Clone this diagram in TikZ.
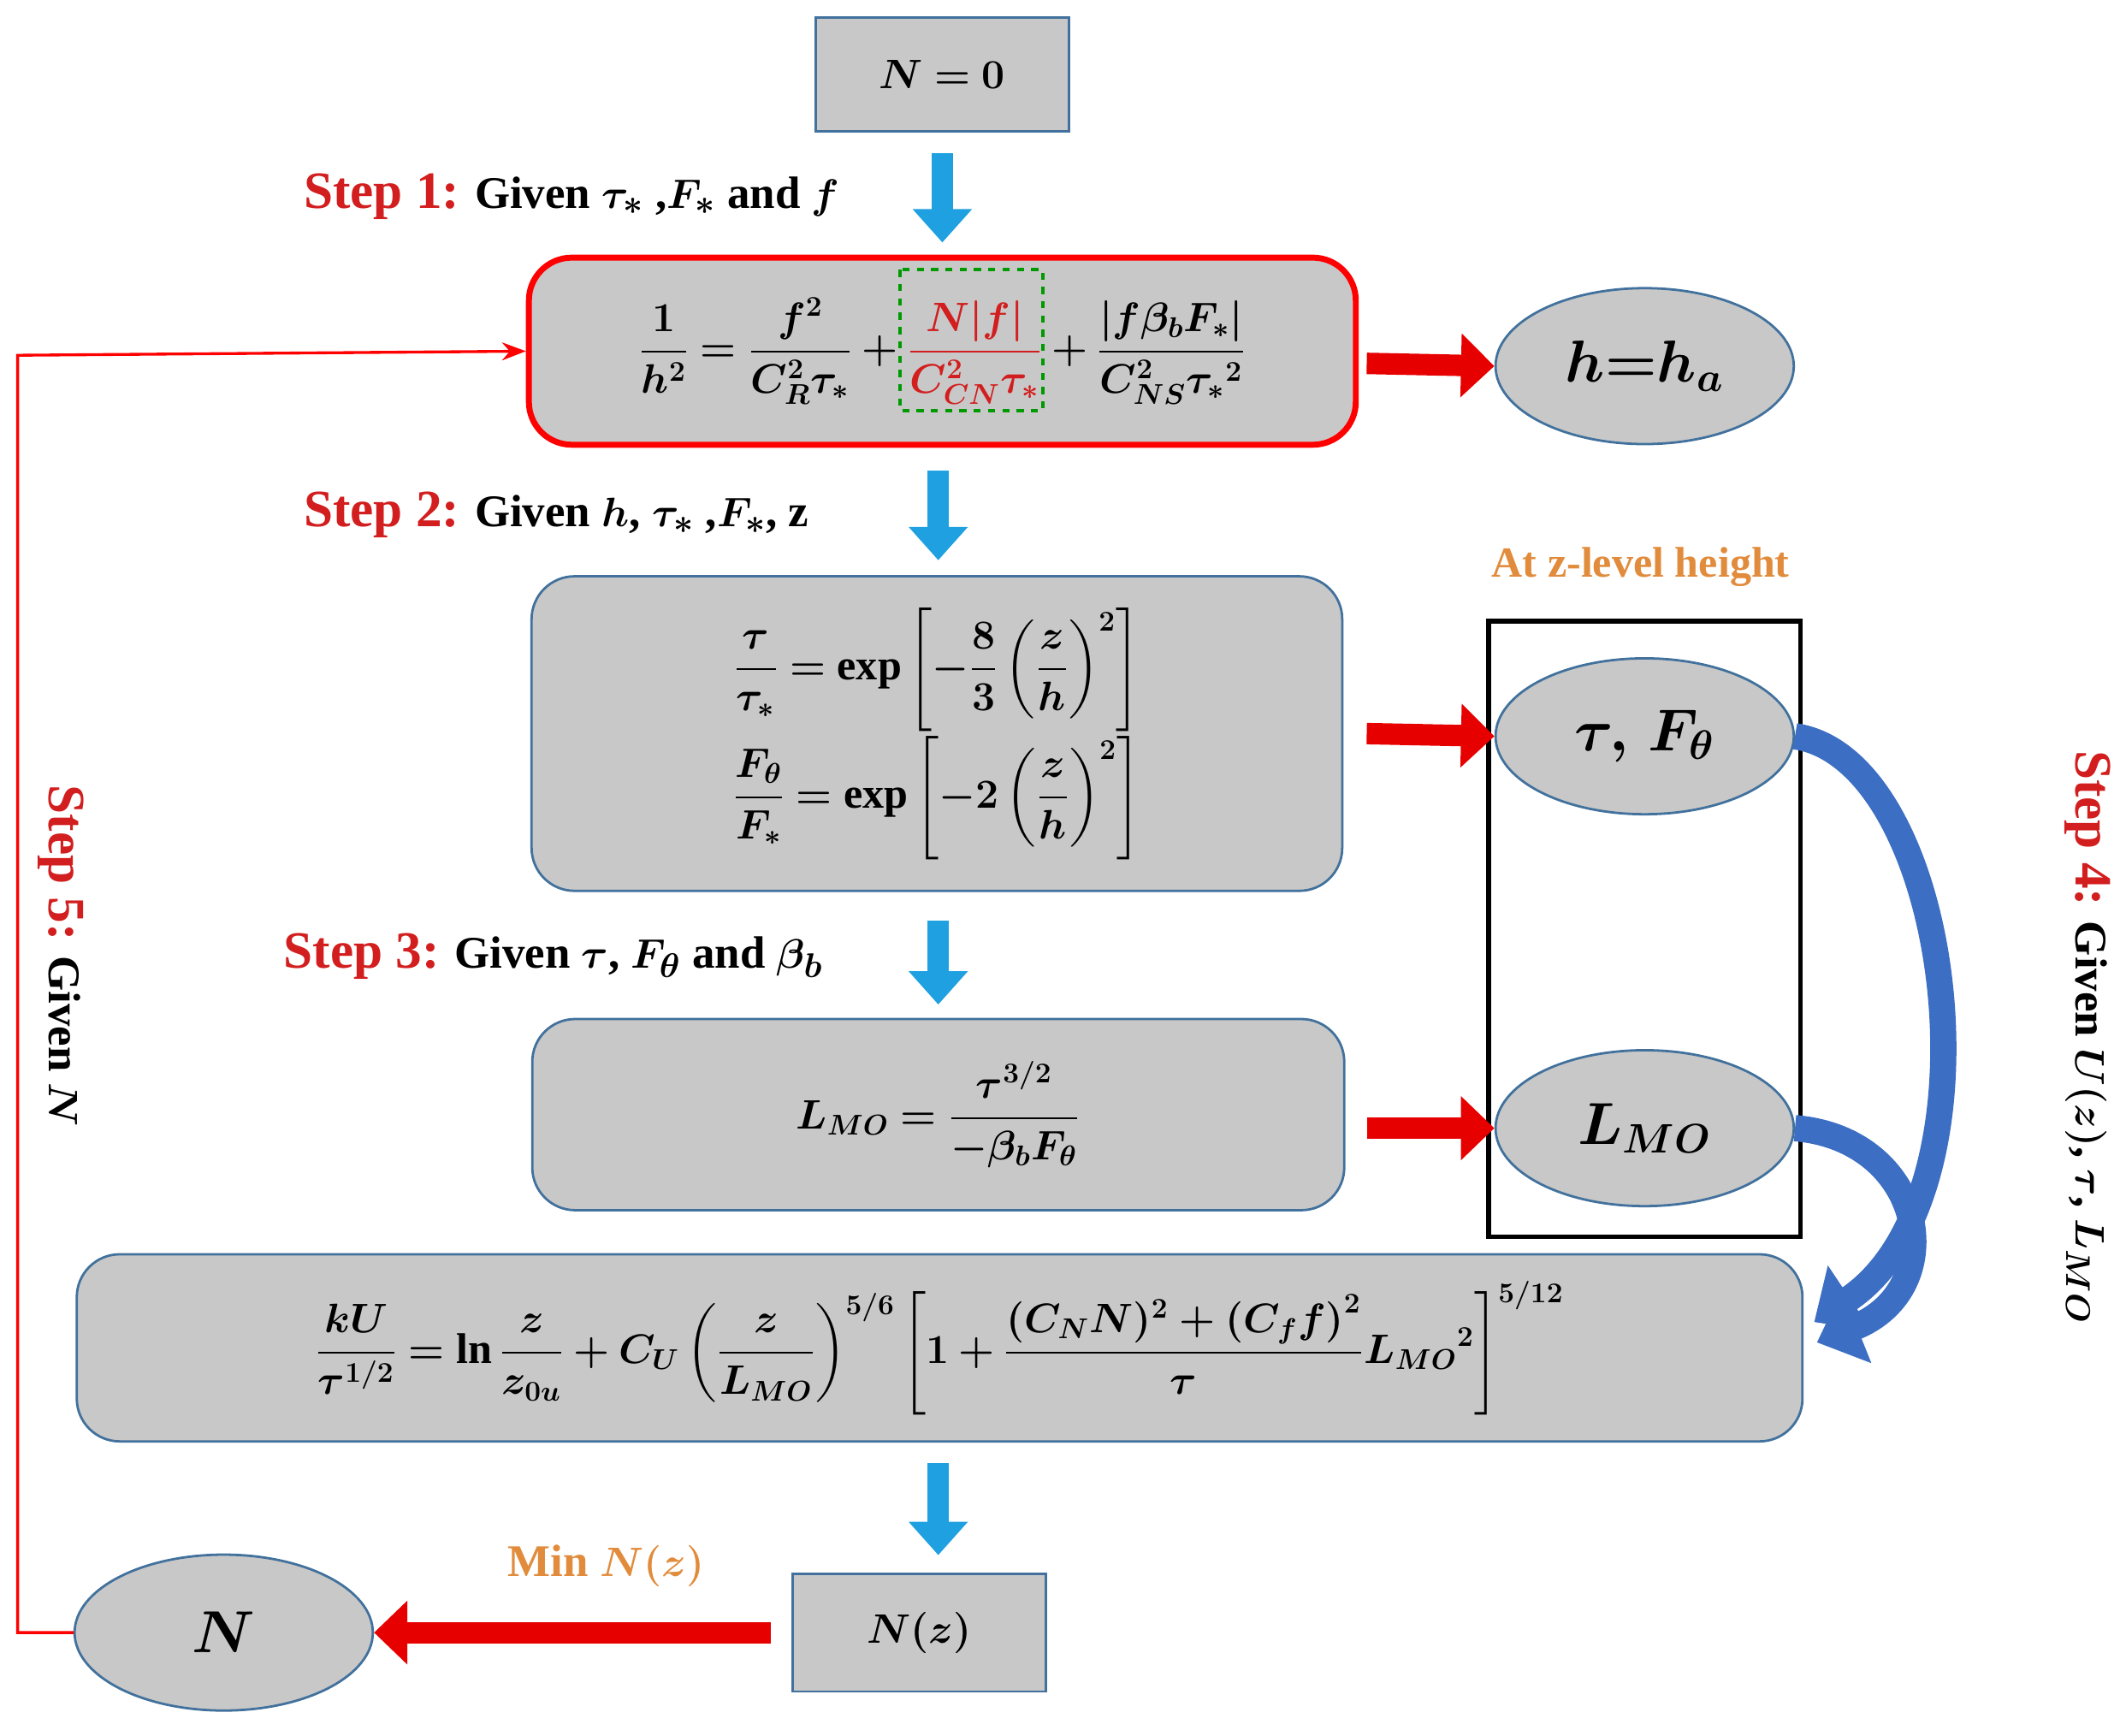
\documentclass[tikz,border=0pt]{standalone}
\usepackage{amsmath,bm}
\usepackage{fontspec}
\setmainfont{Liberation Serif}
\usetikzlibrary{arrows.meta,shapes.geometric}

% colours of the flow chart
\definecolor{boxgray}{RGB}{200,200,200}
\definecolor{boxline}{RGB}{65,113,156}
\definecolor{steparrow}{RGB}{30,160,225}
\definecolor{fatred}{RGB}{230,0,0}
\definecolor{curveblue}{RGB}{60,110,195}
\definecolor{steptxt}{RGB}{210,30,30}
\definecolor{orangetxt}{RGB}{225,140,60}

\tikzset{
  eqbox/.style={draw=boxline, line width=1pt, fill=boxgray, rounded corners=18pt, inner sep=0pt},
  smallbox/.style={draw=boxline, line width=1pt, fill=boxgray, inner sep=0pt},
  oval/.style={ellipse, draw=boxline, line width=1pt, fill=boxgray, minimum width=4.4cm, minimum height=2.3cm},
  steplabel/.style={font=\fontsize{19}{22}\selectfont\bfseries, anchor=west},
  downarrow/.style={draw=steparrow, line width=9pt, -{Triangle[length=14pt,width=24pt]}},
  fatarrow/.style={draw=fatred, line width=9pt, -{Triangle[length=14pt,width=26pt]}},
  curvearrow/.style={draw=curveblue, line width=11pt, -{Triangle[length=18pt,width=32pt]}},
}

\begin{document}
\begin{tikzpicture}[x=0.02cm, y=-0.02cm, font=\fontsize{18}{22}\selectfont]
\useasboundingbox (0,0) rectangle (1568,1280);

% main boxes
\node[smallbox, minimum width=3.74cm, minimum height=1.68cm] (start) at (695,55) {$\bm{N=0}$};
\node[eqbox, draw=red, line width=2.5pt, minimum width=12.2cm, minimum height=2.76cm] (hbox) at (695,259)
  {$\displaystyle \bm{\frac{1}{h^2}=\frac{f^2}{C_R^2\tau_*}+{\color{steptxt}\frac{N|f|}{C_{CN}^2\tau_*}}+\frac{|f\beta_bF_*|}{C_{NS}^2{\tau_*}^2}}$};
\draw[green!60!black, dashed, line width=1.5pt] (664,199) rectangle (769,303);
\node[eqbox, minimum width=11.96cm, minimum height=4.64cm] (tbox) at (691,541)
  {$\begin{gathered}\displaystyle \bm{\frac{\tau}{\tau_*}=\exp\left[-\frac{8}{3}\left(\frac{z}{h}\right)^2\right]}\\[-2pt]
   \displaystyle \bm{\frac{F_\theta}{F_*}=\exp\left[-2\left(\frac{z}{h}\right)^2\right]}\end{gathered}$};
\node[eqbox, minimum width=11.98cm, minimum height=2.82cm] (lbox) at (692,822)
  {$\displaystyle \bm{L_{MO}=\frac{\tau^{3/2}}{-\beta_bF_\theta}}$};
\node[eqbox, minimum width=25.46cm, minimum height=2.76cm] (ubox) at (693,994)
  {$\displaystyle \bm{\frac{kU}{\tau^{1/2}}=\ln\frac{z}{z_{0u}}+C_U\left(\frac{z}{L_{MO}}\right)^{5/6}\left[1+\frac{(C_NN)^2+\left(C_ff\right)^2}{\tau}{L_{MO}}^2\right]^{5/12}}$};
\node[smallbox, minimum width=3.74cm, minimum height=1.74cm] (nz) at (678,1204) {$\bm{N(z)}$};

% ovals
\node[oval] (ha) at (1213,270) {\fontsize{24}{28}\selectfont$\bm{h{=}h_a}$};
\node[oval] (tf) at (1213,543) {\fontsize{24}{28}\selectfont$\bm{\tau,\,F_\theta}$};
\node[oval] (lmo) at (1213,832) {\fontsize{24}{28}\selectfont$\bm{L_{MO}}$};
\node[oval] (nn) at (165,1204) {\fontsize{24}{28}\selectfont$\bm{N}$};

% frame of z-level values
\node[draw=black, line width=2pt, minimum width=4.6cm, minimum height=9.08cm] (frame) at (1213,685) {};
\node[font=\fontsize{18}{22}\selectfont\bfseries, text=orangetxt] (zlev) at (1210,418) {At z-level height};

% step labels
\node[steplabel] (s1) at (218,145) {{\color{steptxt}\fontsize{22}{26}\selectfont Step 1:} Given $\bm{\tau_*}$ ,$\bm{F_*}$ and $\bm{f}$};
\node[steplabel] (s2) at (218,380) {{\color{steptxt}\fontsize{22}{26}\selectfont Step 2:} Given $\bm{h}$, $\bm{\tau_*}$ ,$\bm{F_*}$, z};
\node[steplabel] (s3) at (203,705) {{\color{steptxt}\fontsize{22}{26}\selectfont Step 3:} Given $\bm{\tau}$, $\bm{F_\theta}$ and $\bm{\beta_b}$};
\node[steplabel, anchor=center, rotate=-90] (s4) at (1540,765) {{\color{steptxt}\fontsize{22}{26}\selectfont Step 4:} Given $\bm{U(z)}$, $\bm{\tau}$, $\bm{L_{MO}}$};
\node[steplabel, anchor=center, rotate=-90] (s5) at (45,705) {{\color{steptxt}\fontsize{22}{26}\selectfont Step 5:} Given $\bm{N}$};
\node[font=\fontsize{19}{22}\selectfont\bfseries, text=orangetxt] (minn) at (447,1155) {Min $\bm{N(z)}$};

% downward arrows
\draw[downarrow] (start.south) ++(0,15) -- ++(0,66);
\draw[downarrow] (hbox.south) ++(-3,17) -- ++(0,66);
\draw[downarrow] (tbox.south) ++(1,21) -- ++(0,62);
\draw[downarrow] (ubox.south) ++(-1,15) -- ++(0,68);

% red fat arrows
\draw[fatarrow] (1008,268) -- (ha.west);
\draw[fatarrow] (1008,541) -- (tf.west);
\draw[fatarrow] (1008,832) -- (lmo.west);
\draw[fatarrow] (nz.west) ++(-15,0) -- (nn.east);

% curved arrows of step 4
\draw[curvearrow] (tf.east) .. controls (1440,560) and (1480,880) .. (1338,975);
\draw[curvearrow] (lmo.east) .. controls (1420,840) and (1440,950) .. (1340,990);

% feedback line of step 5
\draw[red, line width=1.2pt, -{Stealth[length=10pt]}] (nn.west) -- (13,1204) -- (13,262) -- (hbox.west);

\end{tikzpicture}
\end{document}
